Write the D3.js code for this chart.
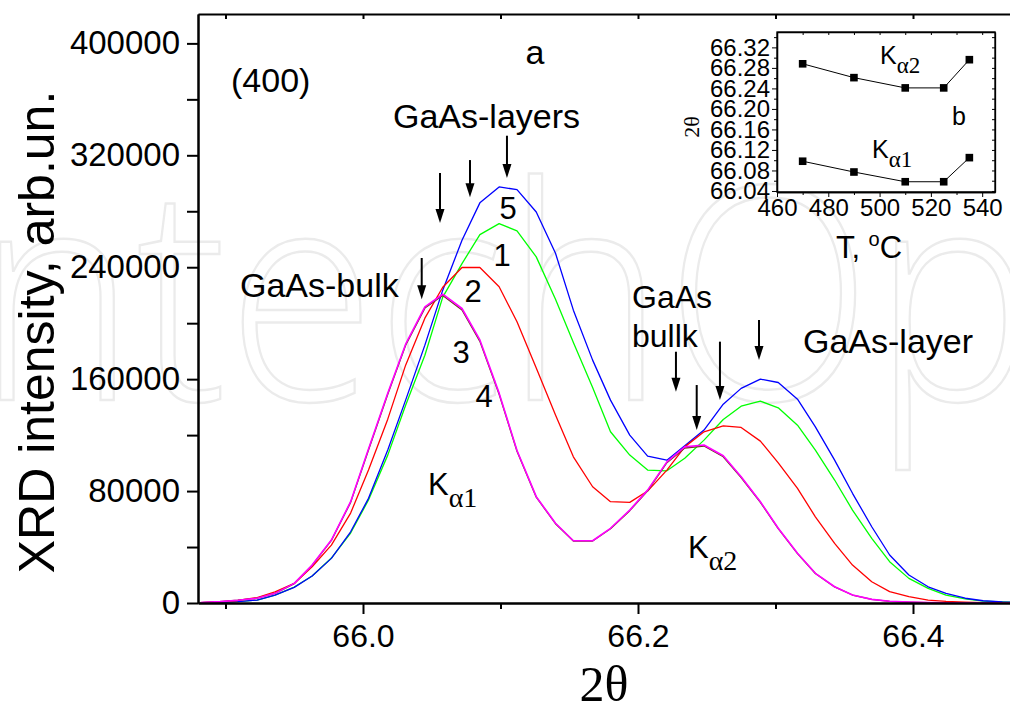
<!DOCTYPE html>
<html>
<head>
<meta charset="utf-8">
<script src="https://cdnjs.cloudflare.com/ajax/libs/d3/7.8.5/d3.min.js"></script>
<style>
  body { margin: 0; background: #fff; }
  svg { display: block; }
  .sans { font-family: "Liberation Sans", Arial, sans-serif; }
  .serif { font-family: "Liberation Serif", "Times New Roman", serif; }
</style>
</head>
<body>
<script>
////////////////////////////////////////////////////////////////////////////
//////////////////////////////// data //////////////////////////////////////
////////////////////////////////////////////////////////////////////////////

// 2theta of every measured point (deg)
const angles = [65.882, 65.896, 65.909, 65.923, 65.936, 65.950, 65.963, 65.977, 65.991, 66.004,
    66.018, 66.031, 66.045, 66.058, 66.072, 66.085, 66.099, 66.112, 66.126, 66.140,
    66.153, 66.167, 66.180, 66.194, 66.207, 66.221, 66.234, 66.248, 66.262, 66.275,
    66.289, 66.302, 66.316, 66.329, 66.343, 66.356, 66.370, 66.383, 66.397, 66.411,
    66.424, 66.438, 66.451, 66.465, 66.478];

// curve 1 (470 C) - green
const curve1 = [200, 500, 1000, 2100, 5700, 11400, 19300, 32100, 50000, 73600,
    105700, 141400, 177100, 218600, 242600, 263300, 271200, 266000, 247400, 217100,
    186200, 154000, 122400, 105700, 95000, 94500, 103400, 116400, 131200, 140700,
    144300, 139500, 127100, 109300, 87900, 66400, 46200, 29500, 17600, 10500,
    5700, 2900, 1400, 700, 300];

// curve 2 (490 C) - red
const curve2 = [300, 800, 1800, 3900, 7900, 14000, 25900, 41400, 64300, 95000,
    131400, 170000, 203600, 225700, 239800, 239800, 226000, 201000, 167900, 134300,
    104500, 83100, 72400, 71900, 80000, 95000, 111600, 122400, 126600, 125500,
    115700, 100200, 81900, 61600, 42600, 27100, 15200, 8100, 4500, 2100,
    1200, 600, 300, 200, 100];

// curve 3 (510 C) - magenta
const curve3 = [300, 1000, 2000, 3400, 6900, 14000, 27100, 45000, 72400, 110000,
    150000, 185000, 211600, 220700, 210500, 188000, 150000, 109000, 76000, 57000,
    44500, 44500, 53400, 66400, 80700, 100900, 111600, 112900, 105200, 90200,
    72400, 53400, 35500, 21200, 11600, 5700, 2600, 1200, 600, 300,
    150, 100, 50, 0, 0];

// curve 4 (525 C) - dark, almost on top of curve 3
const curve4 = [300, 1000, 2000, 3400, 6900, 13900, 26900, 44700, 71900, 109300,
    149200, 184200, 210800, 219800, 209500, 187000, 149200, 108500, 75600, 56700,
    44300, 44300, 53100, 66000, 80200, 100300, 110800, 112200, 104500, 89700,
    72000, 53100, 35300, 21100, 11500, 5700, 2600, 1200, 600, 300,
    150, 100, 50, 0, 0];

// curve 5 (535 C) - blue
const curve5 = [200, 500, 1000, 2100, 5700, 11200, 19300, 31900, 50900, 74800,
    109300, 145000, 184300, 223600, 259300, 286000, 297400, 295500, 279500, 250000,
    209300, 173600, 145000, 120000, 105000, 102100, 112400, 123600, 142100, 153400,
    160000, 157600, 145700, 125900, 102100, 78400, 54500, 34300, 20000, 11600,
    6900, 3400, 1600, 800, 400];

const yTicks = [0, 80000, 160000, 240000, 320000, 400000];
const yMinorTicks = [40000, 120000, 200000, 280000, 360000];
const xTicks = [66.0, 66.2, 66.4];
const xMinorTicks = [65.9, 66.1, 66.3];

// inset: peak position vs growth temperature
const insetT = [470, 490, 510, 525, 535];
const insetKa1 = [66.098, 66.077, 66.058, 66.058, 66.105];
const insetKa2 = [66.288, 66.261, 66.241, 66.241, 66.296];
const insetYTicks = [66.04, 66.08, 66.12, 66.16, 66.20, 66.24, 66.28, 66.32];
const insetYMinor = [66.06, 66.10, 66.14, 66.18, 66.22, 66.26, 66.30, 66.34];
const insetXTicks = [460, 480, 500, 520, 540];
const insetXMinor = [470, 490, 510, 530];

// arrows [2theta, from intensity, to intensity]
const arrowsKa1 = [[66.0427, 246600, 217100], [66.056, 307300, 271600],
    [66.0778, 316600, 290000], [66.1047, 334000, 303800]];
const arrowsKa2 = [[66.2276, 179600, 151000], [66.2427, 155800, 123700],
    [66.2596, 186800, 145100], [66.288, 202300, 173700]];

////////////////////////////////////////////////////////////////////////////
/////////////////////////////// set up /////////////////////////////////////
////////////////////////////////////////////////////////////////////////////

const width = 1010;
const height = 704;

const svg = d3.select('body')
    .append('svg')
    .attr('width', width)
    .attr('height', height);

svg.append('rect')
    .attr('width', width)
    .attr('height', height)
    .attr('fill', '#fff');

// faint publisher watermark behind everything
svg.append('text')
    .attr('transform', 'translate(-92, 400) scale(0.91, 1)')
    .attr('font-family', '"Open Sans", sans-serif')
    .attr('font-weight', 300)
    .attr('font-size', 298)
    .attr('fill', 'none')
    .attr('stroke', '#ebebeb')
    .attr('stroke-width', 2.5)
    .text('IntechOpen');

// main plot area
const plot = { left: 198, top: 14, bottom: 603, right: 1023 };

const x = d3.scaleLinear()
    .domain([65.88, 66.48])
    .range([plot.left, plot.right]);

const y = d3.scaleLinear()
    .domain([0, 421000])
    .range([plot.bottom, plot.top]);

svg.append('clipPath')
    .attr('id', 'plotClip')
    .append('rect')
    .attr('x', plot.left)
    .attr('y', plot.top)
    .attr('width', plot.right - plot.left)
    .attr('height', plot.bottom - plot.top);

// curves
const line = d3.line()
    .x((d, i) => x(angles[i]))
    .y(d => y(d));

const series = [
    { values: curve1, color: '#00ff00', w: 1.3 },
    { values: curve5, color: '#0000ff', w: 1.3 },
    { values: curve2, color: '#ff0000', w: 1.3 },
    { values: curve4, color: '#6b3a1a', w: 1.3 },
    { values: curve3, color: '#ff00ff', w: 1.6 }
];

svg.append('g')
    .attr('clip-path', 'url(#plotClip)')
    .selectAll('path')
    .data(series)
    .enter()
    .append('path')
    .attr('d', d => line(d.values))
    .attr('fill', 'none')
    .attr('stroke', d => d.color)
    .attr('stroke-width', d => d.w)
    .attr('stroke-linejoin', 'round');

// axes
const styleAxis = (g, fontSize) => {
    g.select('.domain').attr('stroke-width', 2);
    g.selectAll('.tick line').attr('stroke-width', 2);
    g.selectAll('text')
        .attr('class', 'sans')
        .attr('font-size', fontSize)
        .attr('fill', '#000');
    g.attr('font-family', null);
};

const xAxisGroup = svg.append('g')
    .attr('transform', `translate(0, ${plot.bottom})`)
    .call(d3.axisBottom(x).tickValues(xTicks).tickFormat(d3.format('.1f'))
        .tickSize(11).tickSizeOuter(0).tickPadding(10));
styleAxis(xAxisGroup, 32);

svg.append('g')
    .attr('transform', `translate(0, ${plot.bottom})`)
    .call(d3.axisBottom(x).tickValues(xMinorTicks).tickFormat('').tickSize(6).tickSizeOuter(0))
    .call(g => styleAxis(g, 32));

// top border with inner ticks
svg.append('g')
    .attr('transform', `translate(0, ${plot.top})`)
    .call(d3.axisTop(x).tickValues(xTicks.concat(xMinorTicks)).tickFormat('').tickSize(-5).tickSizeOuter(0))
    .call(g => styleAxis(g, 32));

const yAxisGroup = svg.append('g')
    .attr('transform', `translate(${plot.left}, 0)`)
    .call(d3.axisLeft(y).tickValues(yTicks).tickFormat(d3.format('d'))
        .tickSize(11).tickSizeOuter(0).tickPadding(7));
styleAxis(yAxisGroup, 33);

svg.append('g')
    .attr('transform', `translate(${plot.left}, 0)`)
    .call(d3.axisLeft(y).tickValues(yMinorTicks).tickFormat('').tickSize(11).tickSizeOuter(0))
    .call(g => styleAxis(g, 33));

// axis titles
svg.append('text')
    .attr('class', 'serif')
    .attr('x', 604)
    .attr('y', 701)
    .attr('text-anchor', 'middle')
    .attr('font-size', 50)
    .text('2\u03B8');

svg.append('text')
    .attr('class', 'sans')
    .attr('transform', 'translate(54, 332) rotate(-90)')
    .attr('text-anchor', 'middle')
    .attr('font-size', 50)
    .text('XRD intensity, arb.un.');

// arrows
const drawArrow = (a) => {
    const ax = x(a[0]), y1 = y(a[1]), y2 = y(a[2]);
    svg.append('line')
        .attr('x1', ax).attr('x2', ax)
        .attr('y1', y1).attr('y2', y2 - 10)
        .attr('stroke', '#000')
        .attr('stroke-width', 2);
    svg.append('path')
        .attr('d', `M${ax - 4.5},${y2 - 14} L${ax + 4.5},${y2 - 14} L${ax},${y2} Z`)
        .attr('fill', '#000');
};
arrowsKa1.forEach(drawArrow);
arrowsKa2.forEach(drawArrow);

// annotations
const label = (txt, tx, ty, size, anchor) => {
    svg.append('text')
        .attr('class', 'sans')
        .attr('x', tx)
        .attr('y', ty)
        .attr('font-size', size)
        .attr('text-anchor', anchor || 'start')
        .text(txt);
};

label('(400)', 231, 92, 34);
label('a', 535, 64, 34, 'middle');
label('GaAs-layers', 393, 128, 34);
label('GaAs-bulk', 240, 297, 34);
label('5', 508, 219, 31, 'middle');
label('1', 502, 266, 31, 'middle');
label('2', 473, 302, 31, 'middle');
label('3', 461, 363, 31, 'middle');
label('4', 484, 407, 31, 'middle');
label('GaAs', 632, 308, 32);
label('bullk', 632, 347, 32);
label('GaAs-layer', 803, 353, 34);

const kLabel = (sub, tx, ty, size, subSize, drop) => {
    const t = svg.append('text')
        .attr('x', tx)
        .attr('y', ty);
    t.append('tspan')
        .attr('class', 'sans')
        .attr('font-size', size)
        .text('K');
    t.append('tspan')
        .attr('class', 'serif')
        .attr('font-size', subSize)
        .attr('dy', drop)
        .text('\u03B1' + sub);
};

kLabel('1', 428, 495, 31, 28, 12);
kLabel('2', 688, 558, 31, 28, 12);

////////////////////////////////////////////////////////////////////////////
//////////////////////////////// inset /////////////////////////////////////
////////////////////////////////////////////////////////////////////////////

const inset = { left: 777, right: 995, top: 32, bottom: 192 };

const xi = d3.scaleLinear()
    .domain([460, 545])
    .range([inset.left, inset.right]);

const yi = d3.scaleLinear()
    .domain([66.038, 66.35])
    .range([inset.bottom, inset.top]);

svg.append('rect')
    .attr('x', inset.left)
    .attr('y', inset.top)
    .attr('width', inset.right - inset.left)
    .attr('height', inset.bottom - inset.top)
    .attr('fill', '#fff')
    .attr('stroke', '#000')
    .attr('stroke-width', 1.3);

const styleInset = (g) => {
    g.select('.domain').attr('stroke-width', 1.3);
    g.selectAll('.tick line').attr('stroke-width', 1);
    g.selectAll('text')
        .attr('font-family', '"Liberation Sans Narrow", "Liberation Sans", Arial, sans-serif')
        .attr('font-size', 24)
        .attr('fill', '#000');
};

svg.append('g')
    .attr('transform', `translate(0, ${inset.bottom})`)
    .call(d3.axisBottom(xi).tickValues(insetXTicks).tickSize(5).tickSizeOuter(0).tickPadding(2))
    .call(styleInset);
svg.append('g')
    .attr('transform', `translate(0, ${inset.bottom})`)
    .call(d3.axisBottom(xi).tickValues(insetXMinor).tickFormat('').tickSize(3).tickSizeOuter(0))
    .call(styleInset);
svg.append('g')
    .attr('transform', `translate(0, ${inset.top})`)
    .call(d3.axisTop(xi).tickValues(insetXTicks.concat(insetXMinor)).tickFormat('').tickSize(-3).tickSizeOuter(0))
    .call(styleInset);

svg.append('g')
    .attr('transform', `translate(${inset.left}, 0)`)
    .call(d3.axisLeft(yi).tickValues(insetYTicks).tickFormat(d3.format('.2f'))
        .tickSize(5).tickSizeOuter(0).tickPadding(2))
    .call(styleInset);
svg.append('g')
    .attr('transform', `translate(${inset.left}, 0)`)
    .call(d3.axisLeft(yi).tickValues(insetYMinor).tickFormat('').tickSize(3).tickSizeOuter(0))
    .call(styleInset);
svg.append('g')
    .attr('transform', `translate(${inset.right}, 0)`)
    .call(d3.axisRight(yi).tickValues(insetYTicks.concat(insetYMinor)).tickFormat('').tickSize(-3).tickSizeOuter(0))
    .call(styleInset);

// inset lines and square markers
const insetLine = d3.line()
    .x((d, i) => xi(insetT[i]))
    .y(d => yi(d));

[insetKa1, insetKa2].forEach(vals => {
    svg.append('path')
        .attr('d', insetLine(vals))
        .attr('fill', 'none')
        .attr('stroke', '#000')
        .attr('stroke-width', 1);

    svg.append('g')
        .selectAll('rect')
        .data(vals)
        .enter()
        .append('rect')
        .attr('x', (d, i) => xi(insetT[i]) - 3.8)
        .attr('y', d => yi(d) - 3.8)
        .attr('width', 7.6)
        .attr('height', 7.6)
        .attr('fill', '#000');
});

// inset titles
svg.append('text')
    .attr('class', 'serif')
    .attr('transform', 'translate(699, 127) rotate(-90)')
    .attr('text-anchor', 'middle')
    .attr('font-size', 22)
    .text('2\u03B8');

const tTitle = svg.append('text')
    .attr('class', 'sans')
    .attr('x', 869)
    .attr('y', 258)
    .attr('text-anchor', 'middle')
    .attr('font-size', 31);
tTitle.append('tspan').text('T, ');
tTitle.append('tspan').attr('font-size', 20).attr('dy', -12).text('o');
tTitle.append('tspan').attr('dy', 12).text('C');

kLabel('2', 880, 64, 25, 23, 9);
kLabel('1', 872, 158, 25, 23, 9);
label('b', 952, 125, 25);
</script>
</body>
</html>
